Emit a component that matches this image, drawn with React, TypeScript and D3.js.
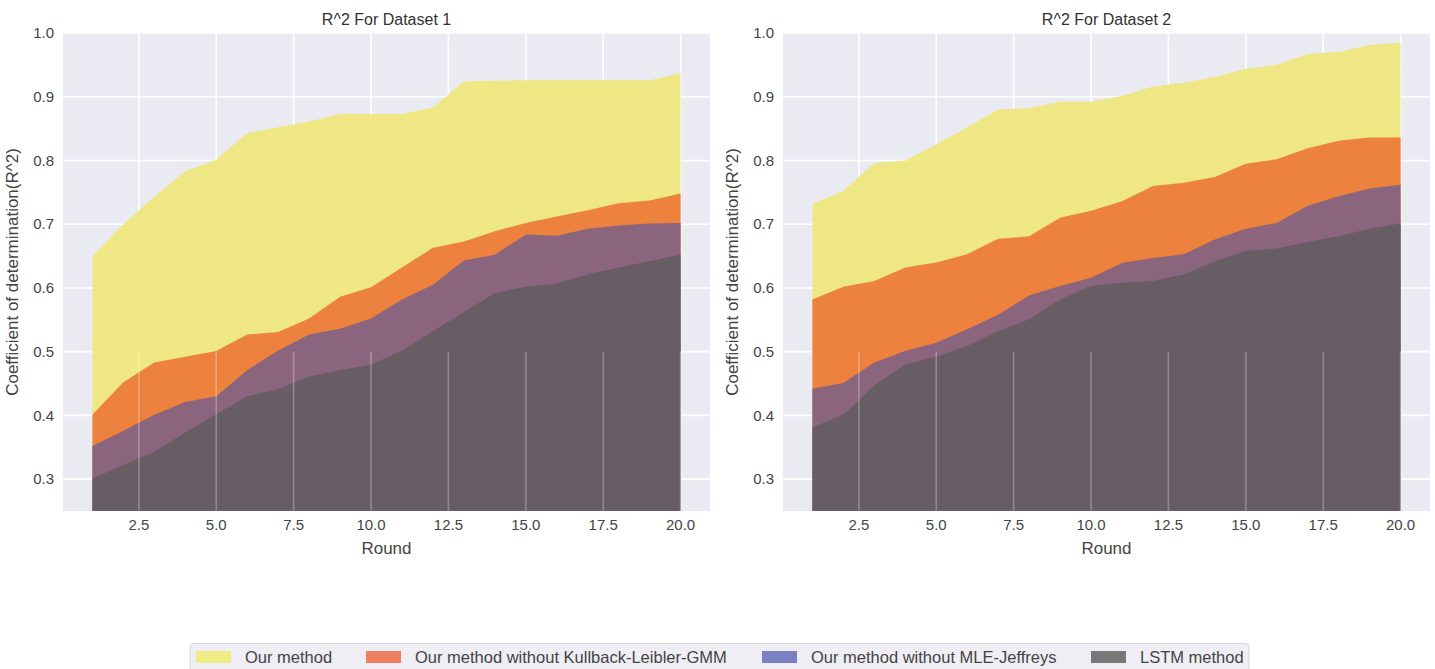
import React from "react";
import * as d3 from "d3";

const rounds = d3.range(1, 21);

// Dataset 1
const ours1 = [0.65, 0.70, 0.743, 0.783, 0.801, 0.843, 0.852, 0.861, 0.873, 0.873, 0.873, 0.883, 0.924, 0.925, 0.926, 0.926, 0.926, 0.926, 0.926, 0.937];
const noKL1 = [0.401, 0.452, 0.483, 0.492, 0.501, 0.527, 0.531, 0.552, 0.586, 0.601, 0.632, 0.663, 0.673, 0.689, 0.702, 0.712, 0.722, 0.733, 0.737, 0.748];
const noMLE1 = [0.352, 0.376, 0.401, 0.421, 0.43, 0.471, 0.502, 0.527, 0.536, 0.552, 0.582, 0.605, 0.643, 0.652, 0.684, 0.682, 0.693, 0.698, 0.701, 0.702];
const lstm1 = [0.301, 0.322, 0.343, 0.373, 0.402, 0.43, 0.441, 0.461, 0.471, 0.48, 0.501, 0.532, 0.562, 0.592, 0.602, 0.607, 0.621, 0.632, 0.642, 0.652];

// Dataset 2
const ours2 = [0.732, 0.752, 0.796, 0.80, 0.825, 0.852, 0.88, 0.882, 0.892, 0.892, 0.901, 0.916, 0.922, 0.931, 0.944, 0.95, 0.967, 0.97, 0.981, 0.985];
const noKL2 = [0.582, 0.602, 0.611, 0.632, 0.64, 0.653, 0.677, 0.681, 0.71, 0.721, 0.736, 0.76, 0.765, 0.774, 0.795, 0.802, 0.819, 0.831, 0.836, 0.836];
const noMLE2 = [0.442, 0.451, 0.483, 0.501, 0.514, 0.535, 0.558, 0.588, 0.603, 0.616, 0.639, 0.647, 0.653, 0.676, 0.693, 0.702, 0.729, 0.744, 0.756, 0.762];
const lstm2 = [0.381, 0.401, 0.447, 0.48, 0.492, 0.509, 0.532, 0.551, 0.582, 0.603, 0.608, 0.611, 0.621, 0.642, 0.658, 0.662, 0.672, 0.681, 0.693, 0.701];

const seriesNames = ["Our method", "Our method without Kullback-Leibler-GMM", "Our method without MLE-Jeffreys", "LSTM method"];
const xTicks = [2.5, 5, 7.5, 10, 12.5, 15, 17.5, 20];
const yTicks = [0.3, 0.4, 0.5, 0.6, 0.7, 0.8, 0.9, 1.0];

const fills = ["rgb(238,231,120)", "rgb(236,117,54)", "rgb(127,96,133)", "rgb(100,91,99)"];
const legendFills = ["#f0ec84", "#ee7f60", "#7a80c2", "#787878"];

const FONT = "'Liberation Sans', Arial, sans-serif";
const W = 1435;
const H = 669;
const top = 33;
const bottom = 511;

const Panel = ({ left, right, title, data }) => {
  const x = d3.scaleLinear().domain([0.05, 20.95]).range([left, right]);
  const y = d3.scaleLinear().domain([0.25, 1.0]).range([bottom, top]);
  const area = d3
    .area<number>()
    .x((d, i) => x(rounds[i]))
    .y0(y(0.25))
    .y1((d) => y(d));

  return (
    <g>
      <rect x={left} y={top} width={right - left} height={bottom - top} fill="#eaeaf2" />
      {yTicks.map((t) => (
        <line key={"gy" + t} x1={left} x2={right} y1={y(t)} y2={y(t)} stroke="#fff" strokeWidth={1.6} />
      ))}
      {xTicks.map((t) => (
        <line key={"gx" + t} x1={x(t)} x2={x(t)} y1={top} y2={bottom} stroke="#fff" strokeWidth={1.6} />
      ))}
      {data.map((s, i) => (
        <path key={"a" + i} d={area(s) || ""} fill={fills[i]} fillOpacity={0.9} />
      ))}
      {xTicks.map((t) => (
        <line key={"gv" + t} x1={x(t)} x2={x(t)} y1={y(0.5)} y2={bottom} stroke="#fff" strokeOpacity={0.28} strokeWidth={1.6} />
      ))}
      {yTicks.map((t) => (
        <text key={"ty" + t} x={left - 9} y={y(t)} dy="0.35em" textAnchor="end" fontSize={15} fill="#444" fontFamily={FONT}>
          {d3.format(".1f")(t)}
        </text>
      ))}
      {xTicks.map((t) => (
        <text key={"tx" + t} x={x(t)} y={bottom + 19} textAnchor="middle" fontSize={15} fill="#444" fontFamily={FONT}>
          {d3.format(".1f")(t)}
        </text>
      ))}
      <text x={(left + right) / 2} y={554} textAnchor="middle" fontSize={17} fill="#444" fontFamily={FONT}>
        Round
      </text>
      <text
        transform={`translate(${left - 45},${(top + bottom) / 2}) rotate(-90)`}
        textAnchor="middle"
        fontSize={17}
        fill="#444"
        fontFamily={FONT}
      >
        Coefficient of determination(R^2)
      </text>
      <text x={(left + right) / 2} y={25} textAnchor="middle" fontSize={16} fill="#333" fontFamily={FONT}>
        {title}
      </text>
    </g>
  );
};

const legendX = [196, 366, 762, 1091];

export default function App() {
  return (
    <svg width={W} height={H} style={{ position: "absolute", left: 0, top: 0, background: "#fff" }}>
      <Panel left={63} right={710} title="R^2 For Dataset 1" data={[ours1, noKL1, noMLE1, lstm1]} />
      <Panel left={783} right={1430} title="R^2 For Dataset 2" data={[ours2, noKL2, noMLE2, lstm2]} />
      <rect x={190} y={643.5} width={1059} height={40} rx={4} fill="#eeeef4" stroke="#d4d4dc" />
      {seriesNames.map((n, i) => (
        <g key={n}>
          <rect x={legendX[i]} y={651} width={35} height={12} fill={legendFills[i]} />
          <text x={legendX[i] + 49} y={657} dy="0.35em" fontSize={16.5} fill="#444" fontFamily={FONT}>
            {n}
          </text>
        </g>
      ))}
    </svg>
  );
}
